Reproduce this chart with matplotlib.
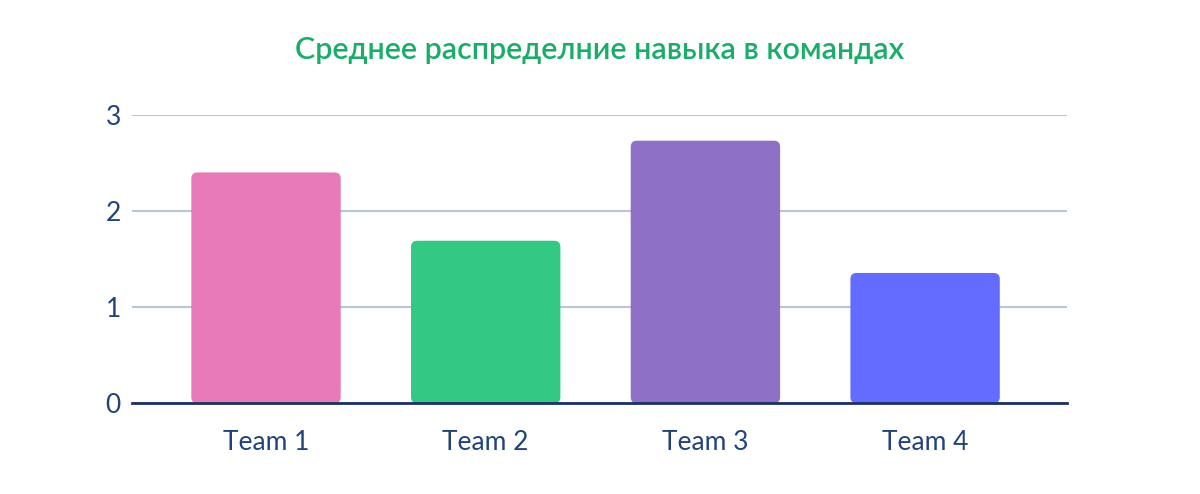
import numpy as np
import matplotlib.pyplot as plt
from matplotlib.patches import FancyBboxPatch

# Данные
teams = ['Team 1', 'Team 2', 'Team 3', 'Team 4']
values = [2.40, 1.69, 2.73, 1.355]
colors = ['#E87AB8', '#33C985', '#8E70C6', '#646CFF']
y_ticks = [0, 1, 2, 3]
title = 'Среднее распределние навыка в командах'

plt.rcParams['font.family'] = ['Lato', 'DejaVu Sans']

fig = plt.figure(figsize=(12, 4.94), dpi=100)
ax = fig.add_axes([0.11, 0.1836, 0.779, 0.5842])

x = np.arange(len(teams))
bars = ax.bar(x, values, width=0.68, color='none')

# Barras con esquinas redondeadas
for b, c in zip(bars, colors):
    bx, by = b.get_x(), b.get_y()
    w, h = b.get_width(), b.get_height()
    b.remove()
    p = FancyBboxPatch((bx, by), w, h,
                       boxstyle='round,pad=0,rounding_size=0.028',
                       mutation_aspect=2.3, facecolor=c, edgecolor='none',
                       zorder=3)
    ax.add_patch(p)

ax.set_xlim(-0.61, 3.645)
ax.set_ylim(0, 3)
ax.set_yticks(y_ticks)
ax.set_xticks(x)
ax.set_xticklabels(teams)

ax.grid(axis='y', color='#B8C6D8', linewidth=1.5, zorder=0)
ax.set_axisbelow(True)
for s in ['top', 'right', 'left']:
    ax.spines[s].set_visible(False)
ax.spines['bottom'].set_color('#1C3160')
ax.spines['bottom'].set_linewidth(2)
ax.spines['bottom'].set_zorder(4)

ax.tick_params(axis='both', length=0, labelcolor='#22427A', labelsize=19)
ax.tick_params(axis='x', pad=19)
ax.tick_params(axis='y', pad=8)

fig.text(0.5, 0.898, title, ha='center', va='center', color='#1AAD6A',
         fontsize=22, fontweight='semibold')

plt.savefig('out.png', dpi=100)
